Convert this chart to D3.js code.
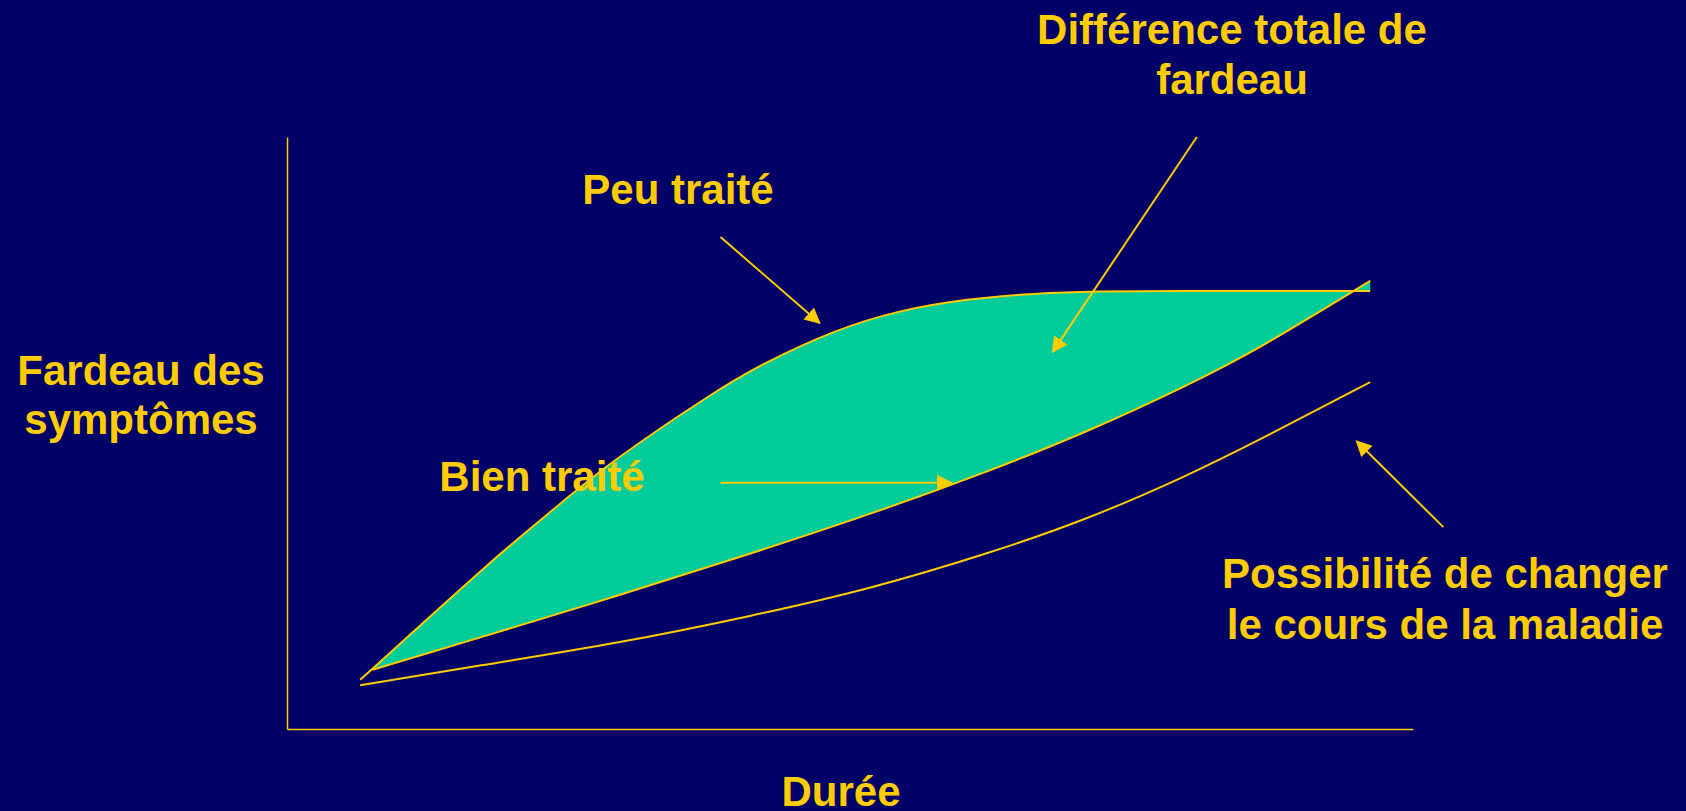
<!DOCTYPE html>
<html>
<head>
<meta charset="utf-8">
<script src="https://cdn.jsdelivr.net/npm/d3@7"></script>
<style>
  html, body { margin: 0; padding: 0; background: #000066; }
  svg { display: block; }
  text { font-family: "Liberation Sans", Arial, sans-serif; font-weight: bold; fill: #FFCC00; }
</style>
</head>
<body>
<svg id="chart" width="1686" height="811"></svg>
<script>
// values, in percent of the axis range (x = durée, y = fardeau)
var peuTraite = [[6.5, 8.3], [17.4, 27.0], [23.4, 36.7], [29.3, 45.6], [37.3, 56.0], [42.6, 61.9], [48.5, 67.0], [54.4, 70.5], [60.4, 72.5], [66.3, 73.5], [72.2, 73.9], [79.6, 74.0], [88.0, 74.0], [96.2, 74.0]];
var bienTraite = [[7.6, 10.0], [17.4, 15.6], [29.3, 22.5], [41.1, 29.6], [52.0, 36.5], [62.0, 43.4], [71.0, 50.3], [79.6, 57.8], [87.0, 65.2], [96.2, 75.7]];
var coursModifie = [[6.5, 7.4], [17.4, 10.8], [29.3, 14.6], [41.1, 19.1], [52.0, 24.0], [62.0, 29.6], [71.0, 35.6], [79.6, 42.6], [87.0, 49.5], [96.2, 58.6]];

// arrows: [from, to]
var arrows = [
  [[38.5, 83.1], [47.3, 68.6]],
  [[80.8, 100], [68.0, 63.7]],
  [[38.5, 41.6], [59.0, 41.6]],
  [[102.7, 34.1], [95.0, 48.6]]
];

var labels = [
  { lines: ["Différence totale de", "fardeau"], x: 1232, y: 44, gap: 50 },
  { lines: ["Peu traité"], x: 678, y: 204, gap: 0 },
  { lines: ["Fardeau des", "symptômes"], x: 141, y: 385, gap: 49 },
  { lines: ["Bien traité"], x: 542, y: 491, gap: 0 },
  { lines: ["Possibilité de changer", "le cours de la maladie"], x: 1445, y: 588, gap: 51 },
  { lines: ["Durée"], x: 841, y: 806, gap: 0 }
];

var yellow = '#FFCC00';
var svg = d3.select('#chart');

var x = d3.scaleLinear().domain([0, 100]).range([287, 1413]);
var y = d3.scaleLinear().domain([0, 100]).range([729, 137]);

svg.append('rect').attr('width', 1686).attr('height', 811).attr('fill', '#000066');

var defs = svg.append('defs');
defs.append('marker')
  .attr('id', 'head')
  .attr('viewBox', '0 0 10 10')
  .attr('refX', 9).attr('refY', 5)
  .attr('markerWidth', 16).attr('markerHeight', 17)
  .attr('markerUnits', 'userSpaceOnUse')
  .attr('orient', 'auto')
  .append('path')
  .attr('d', 'M0,0L10,5L0,10Z')
  .attr('fill', yellow);

// smooth curves through the read points
var line = d3.line().x(d => x(d[0])).y(d => y(d[1])).curve(d3.curveNatural);

// green area between the two upper curves
var areaPath = line(peuTraite) + 'L' + line(bienTraite.slice().reverse()).slice(1) + 'Z';
svg.append('path')
  .attr('d', areaPath)
  .attr('fill', '#00CC99');

[peuTraite, bienTraite, coursModifie].forEach(function(s) {
  svg.append('path')
    .attr('d', line(s))
    .attr('fill', 'none')
    .attr('stroke', yellow)
    .attr('stroke-width', 2);
});

// axes (plain lines, no ticks)
svg.append('g')
  .attr('transform', `translate(0,${y(0)})`)
  .call(d3.axisBottom(x).ticks(0).tickSize(0).tickSizeOuter(0))
  .call(g => g.select('.domain').attr('stroke', yellow).attr('stroke-width', 1.5));
svg.append('g')
  .attr('transform', `translate(${x(0)},0)`)
  .call(d3.axisLeft(y).ticks(0).tickSize(0).tickSizeOuter(0))
  .call(g => g.select('.domain').attr('stroke', yellow).attr('stroke-width', 1.5));

svg.selectAll('.arrow')
  .data(arrows)
  .enter().append('line')
  .attr('class', 'arrow')
  .attr('x1', d => x(d[0][0])).attr('y1', d => y(d[0][1]))
  .attr('x2', d => x(d[1][0])).attr('y2', d => y(d[1][1]))
  .attr('stroke', yellow)
  .attr('stroke-width', 2)
  .attr('marker-end', 'url(#head)');

labels.forEach(function(l) {
  var t = svg.append('text')
    .attr('text-anchor', 'middle')
    .attr('font-size', 42);
  l.lines.forEach(function(s, i) {
    t.append('tspan').attr('x', l.x).attr('y', l.y + i * l.gap).text(s);
  });
});
</script>
</body>
</html>
